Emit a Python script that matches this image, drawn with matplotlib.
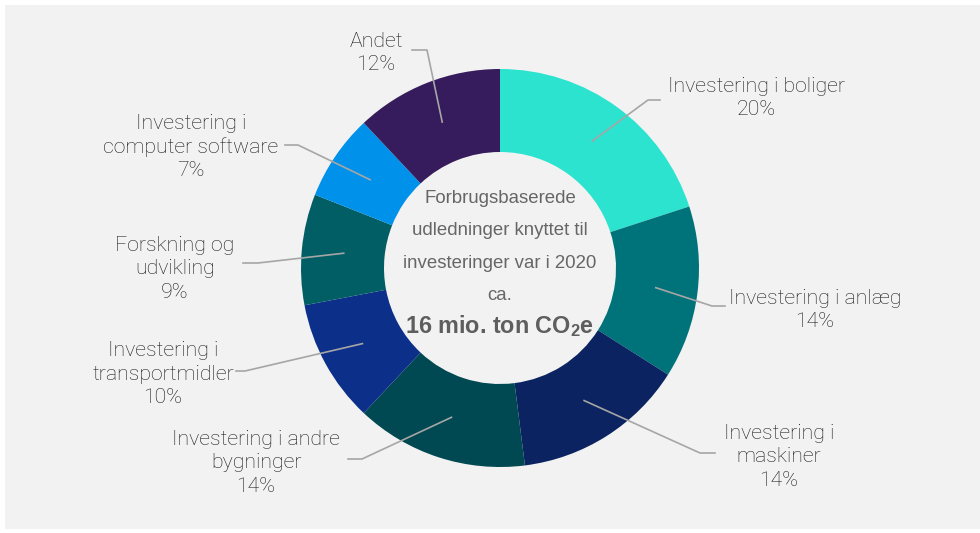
import numpy as np
import matplotlib.pyplot as plt
from matplotlib.patches import Rectangle

plt.rcParams['mathtext.fontset'] = 'custom'
plt.rcParams['mathtext.rm'] = 'Liberation Sans'
plt.rcParams['mathtext.bf'] = 'Liberation Sans:bold'

# Andele af forbrugsbaserede udledninger fra investeringer (2020)
kategorier = ["Investering i boliger", "Investering i anlæg", "Investering i\nmaskiner",
              "Investering i andre\nbygninger", "Investering i\ntransportmidler",
              "Forskning og\nudvikling", "Investering i\ncomputer software", "Andet"]
andele = [20, 14, 14, 14, 10, 9, 7, 12]
farver = ["#2CE3CF", "#00737A", "#0B2361", "#004852",
          "#0C2F8A", "#005E64", "#0091EA", "#361C5C"]

# placering af etiketter (tekstcentrum) og knæk på hjælpelinjen, i pixel
tekst_pos = [(756, 98), (815, 310), (779, 457), (256, 463),
             (163, 374), (175, 269), (191, 147), (376, 53)]
knaek = [(648, 100, 660), (712, 306, 725), (700, 453, 715), (362, 459, 348),
         (245, 371, 236), (258, 263, 243), (298, 145, 285), (427, 50, 412)]

W, H = 980, 533
fig = plt.figure(figsize=(W / 100, H / 100), dpi=100)
fig.patch.set_facecolor("white")
ax = fig.add_axes([0, 0, 1, 1])

ax.add_patch(Rectangle((5, 4), W - 5, H - 9, facecolor="#F2F2F2", edgecolor="none", zorder=0))

cx, cy = 500, H - 268
r_ud, r_ind = 199, 116
wedges, _ = ax.pie(andele, colors=farver, startangle=90, counterclock=False,
                   center=(cx, cy), radius=r_ud, frame=True,
                   wedgeprops=dict(width=r_ud - r_ind, linewidth=0))
ax.set_xlim(0, W)
ax.set_ylim(0, H)
ax.set_aspect("equal")
ax.axis("off")

r_mid = 157
for w, lab, v, tp, kn in zip(wedges, kategorier, andele, tekst_pos, knaek):
    vinkel = np.deg2rad((w.theta1 + w.theta2) / 2)
    x0 = cx + r_mid * np.cos(vinkel)
    y0 = cy + r_mid * np.sin(vinkel)
    ex, ey, slut = kn
    ax.plot([x0, ex, slut], [y0, H - ey, H - ey], color="#A6A6A6", lw=1.2, zorder=3)
    ax.text(tp[0], H - tp[1], f"{lab}\n{v}%", ha="center", va="center",
            fontsize=15.3, family="Roboto", fontweight="light", color="#1A1A1A",
            linespacing=1.27, zorder=4)

midt = "Forbrugsbaserede\nudledninger knyttet til\ninvesteringer var i 2020\nca."
ax.text(cx, H - 247, midt, ha="center", va="center", fontsize=13.4,
        family="Liberation Sans", color="#666666", linespacing=2.2)
ax.text(cx, H - 326, r"16 mio. ton CO$_\mathbf{2}$e", ha="center", va="center",
        fontsize=16.8, family="Liberation Sans", fontweight="bold", color="#5E5E5E")

fig.savefig("out.png", dpi=100, facecolor=fig.get_facecolor())
